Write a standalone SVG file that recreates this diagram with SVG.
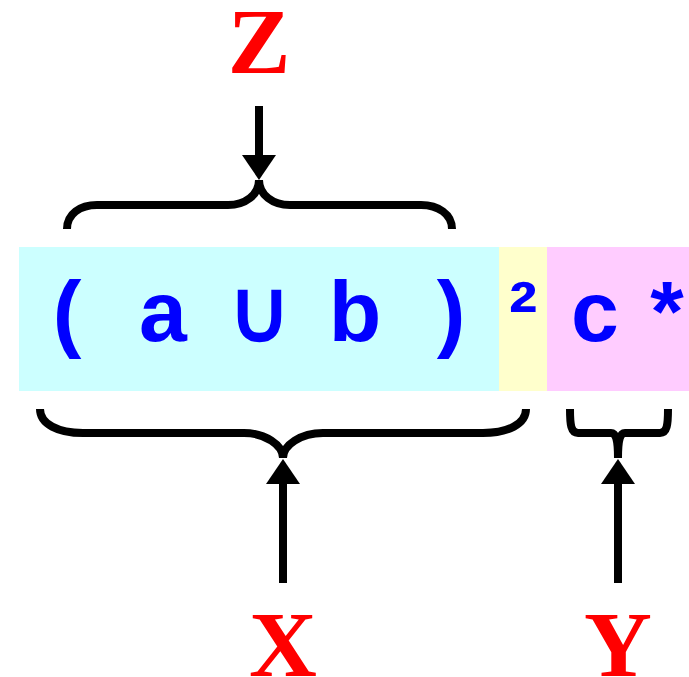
<svg xmlns="http://www.w3.org/2000/svg" width="689" height="677" viewBox="0 0 689 677">
<style>
.cy{fill:#ccffff}.ye{fill:#ffffcc}.pk{fill:#ffccff}
.sym{font-family:"Liberation Sans",Arial,sans-serif;font-weight:bold;font-size:86px;fill:#0000ff;text-anchor:middle}
.lbl{font-family:"Liberation Serif","Times New Roman",serif;font-weight:bold;font-size:94px;fill:#ff0000;text-anchor:middle}
.br{fill:none;stroke:#000;stroke-width:8}
.ar{fill:none;stroke:#000;stroke-width:8;marker-end:url(#head)}
</style>
<defs>
<marker id="head" viewBox="0 0 25 34" refX="0" refY="17" markerWidth="25" markerHeight="34" markerUnits="userSpaceOnUse" orient="auto">
<path d="M0,0 L25,17 L0,34 z" fill="#000"/>
</marker>
</defs>
<g id="cells">
<g id="cell-lparen"><rect class="cy" x="19" y="247" width="96" height="144"/><text class="sym" x="67" y="341">(</text></g>
<g id="cell-a"><rect class="cy" x="115" y="247" width="96" height="144"/><text class="sym" x="163" y="341">a</text></g>
<g id="cell-union"><rect class="cy" x="211" y="247" width="96" height="144"/><text class="sym" x="259" y="341">∪</text></g>
<g id="cell-b"><rect class="cy" x="307" y="247" width="96" height="144"/><text class="sym" x="355" y="341">b</text></g>
<g id="cell-rparen"><rect class="cy" x="403" y="247" width="96" height="144"/><text class="sym" x="451" y="341">)</text></g>
<g id="cell-sq"><rect class="ye" x="499" y="247" width="48" height="144"/><text class="sym" x="523" y="341">²</text></g>
<g id="cell-c"><rect class="pk" x="547" y="247" width="96" height="144"/><text class="sym" x="595" y="341">c</text></g>
<g id="cell-star"><rect class="pk" x="643" y="247" width="48" height="144"/><text class="sym" x="667" y="341">*</text></g>
</g>
<g id="label-Z"><text class="lbl" x="259" y="73">Z</text></g>
<g id="label-X"><text class="lbl" x="283" y="676">X</text></g>
<g id="label-Y"><text class="lbl" x="618" y="676">Y</text></g>
<g id="braces">
<path class="br" d="M67,229 C67,214 80,205 97,205 L228,205 C245,205 259,195 259,180 C259,195 273,205 290,205 L421,205 C438,205 452,214 452,229"/>
<path class="br" d="M40,409 C40,424 58,433 83,433 L244,433 C265,433 283,445 283,458 C283,445 301,433 323,433 L483,433 C508,433 526,424 526,409"/>
<path class="br" d="M570,409 C570,425 571,433 578,433 L611,433 C616,433 618,440 618,458 C618,440 620,433 625,433 L660,433 C667,433 668,425 668,409"/>
</g>
<g id="connectors">
<path class="ar" d="M259,106 L259,155"/>
<path class="ar" d="M283,583 L283,484"/>
<path class="ar" d="M618,583 L618,484"/>
</g>
</svg>
